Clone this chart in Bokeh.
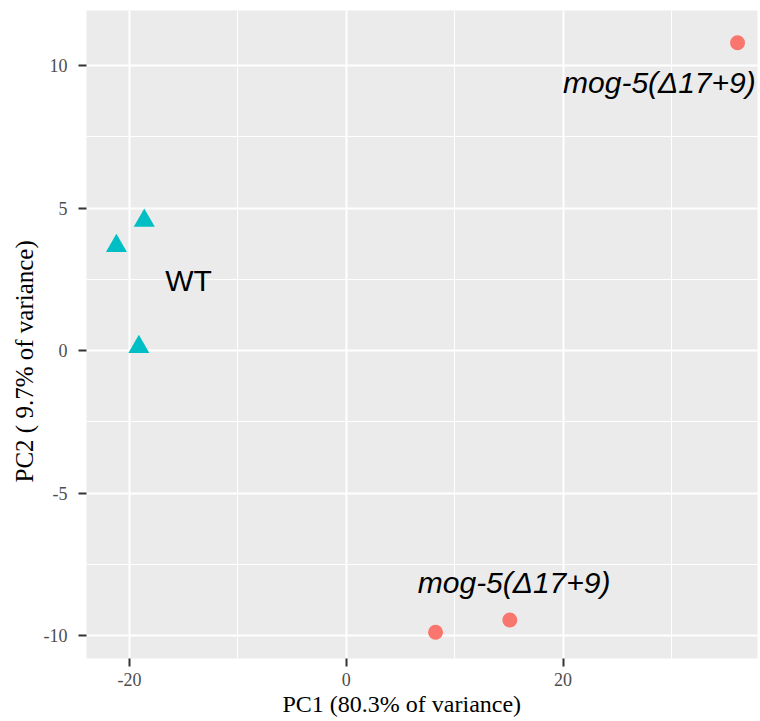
from bokeh.plotting import figure
from bokeh.models import (SingleIntervalTicker, Range1d, ColumnDataSource,
                          PrintfTickFormatter, Title)
from bokeh.core.properties import value
from bokeh.embed import file_html
from bokeh.resources import INLINE

# PCA scores
wt_pc1 = [-18.63, -21.2, -19.13]
wt_pc2 = [4.56, 3.67, 0.13]
mog_pc1 = [36.1, 8.24, 15.09]
mog_pc2 = [10.8, -9.88, -9.45]

# sample-group labels (data coordinates, left/baseline anchored)
lab_text = ["WT", "mog-5(\u039417+9)", "mog-5(\u039417+9)"]
lab_x = [-16.7, 20.0, 6.6]
lab_y = [2.45, 9.4, -8.15]
lab_style = ["normal", "italic", "italic"]

x_title = "PC1 (80.3% of variance)"
y_title = "PC2 ( 9.7% of variance)"

p = figure(width=760, height=721, output_backend="svg", toolbar_location=None,
           x_range=Range1d(-23.96, 37.94), y_range=Range1d(-10.8, 11.93),
           min_border_left=86, min_border_right=3, min_border_top=10,
           min_border_bottom=63)
p.background_fill_color = "#EBEBEB"
p.border_fill_color = "white"
p.outline_line_color = None

xt = SingleIntervalTicker(interval=20, num_minor_ticks=2)
yt = SingleIntervalTicker(interval=5, num_minor_ticks=2)
p.xaxis[0].ticker = xt
p.yaxis[0].ticker = yt
p.xgrid[0].ticker = xt
p.ygrid[0].ticker = yt

p.grid.grid_line_color = "white"
p.grid.grid_line_width = 2
p.grid.minor_grid_line_color = "white"
p.grid.minor_grid_line_width = 1

for ax in (p.xaxis, p.yaxis):
    ax.axis_line_color = None
    ax.major_tick_line_color = "#333333"
    ax.major_tick_line_width = 2
    ax.major_tick_out = 8
    ax.major_tick_in = 0
    ax.minor_tick_line_color = None
    ax.formatter = PrintfTickFormatter(format="%d")
    ax.major_label_text_font = "Liberation Serif"
    ax.major_label_text_font_size = "18px"
    ax.major_label_text_color = "#4D4D4D"

p.xaxis.major_label_standoff = 6
p.yaxis.major_label_standoff = 11

p.add_layout(Title(text=x_title, text_font="Liberation Serif", text_font_size="24px",
                   text_font_style="normal", text_color="black", align="left",
                   offset=196, standoff=0), "below")
p.add_layout(Title(text=y_title, text_font="Liberation Serif", text_font_size="25px",
                   text_font_style="normal", text_color="black", align="left",
                   offset=176, standoff=6), "left")

p.scatter(x=wt_pc1, y=wt_pc2, marker="triangle", size=21,
          fill_color="#00BFC4", line_color=None)
p.scatter(x=mog_pc1, y=mog_pc2, marker="circle", size=15,
          fill_color="#F8766D", line_color=None)

src = ColumnDataSource(dict(x=lab_x, y=lab_y, t=lab_text, s=lab_style))
p.text(x="x", y="y", text="t", source=src, text_font=value("Liberation Sans"),
       text_font_size="30px", text_font_style="s", text_color="black",
       text_align="left", text_baseline="alphabetic")

open("out.html", "w").write(file_html(p, INLINE))
